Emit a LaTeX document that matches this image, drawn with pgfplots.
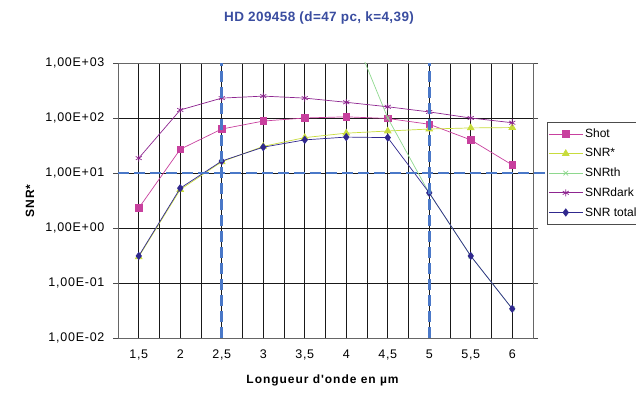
\documentclass[border=0pt]{standalone}
\usepackage{pgfplots}
\pgfplotsset{compat=1.18}
\usepackage{fontspec}
\setmainfont{Liberation Sans}
\newfontfamily\tickfont[LetterSpace=6]{Liberation Sans}
\newfontfamily\labfont[LetterSpace=8]{Liberation Sans}
\newfontfamily\titfont[LetterSpace=3]{Liberation Sans}
\definecolor{cshot}{HTML}{C8409E}
\definecolor{cstar}{HTML}{C8DC3C}
\definecolor{cth}{HTML}{8ED88E}
\definecolor{cdark}{HTML}{8E2590}
\definecolor{ctot}{HTML}{30288E}
\definecolor{cref}{HTML}{4A78C8}
\definecolor{ctitle}{HTML}{3A4DA0}
\begin{document}
\begin{tikzpicture}
\begin{axis}[
  at={(118pt,58pt)}, anchor=south west,
  scale only axis, width=415pt, height=275pt,
  ymode=log, xmin=1.25, xmax=6.25, ymin=0.01, ymax=1000,
  clip mode=individual,
  xtick={1.5,2,2.5,3,3.5,4,4.5,5,5.5,6},
  xticklabels={{1,5},2,{2,5},3,{3,5},4,{4,5},5,{5,5},6},
  minor xtick={1.25,1.75,2.25,2.75,3.25,3.75,4.25,4.75,5.25,5.75,6.25},
  ytick={0.01,0.1,1,10,100,1000},
  yticklabels={{1,00E-02},{1,00E-01},{1,00E+00},{1,00E+01},{1,00E+02},{1,00E+03}},
  yminorticks=false,
  /pgf/number format/assume math mode=true,
  xmajorgrids, xminorgrids, ymajorgrids,
  grid style={black!90, line width=0.6pt},
  minor grid style={black!90, line width=0.6pt},
  axis line style={black!60, line width=0.6pt},
  xtick style={draw=none}, minor tick length=0pt,
  ytick style={black!70}, major tick length=5pt,
  ytick align=outside,
  tick label style={font=\tickfont\fontsize{12.5}{14}\selectfont},
  yticklabel style={xshift=-5pt},
  xticklabel style={yshift=-8pt},
  every axis title shift=0pt,
  title={\textbf{HD 209458 (d=47 pc, k=4,39)}},
  title style={font=\titfont\fontsize{13.5}{15}\selectfont, text=ctitle, at={(axis description cs:0.485,1.164)}, anchor=center},
  xlabel={\textbf{Longueur d'onde en µm}},
  xlabel style={font=\labfont\fontsize{12}{14}\selectfont, at={(axis description cs:0.494,-0.153)}, anchor=center},
  ylabel={\textbf{SNR*}},
  ylabel style={font=\labfont\fontsize{12}{14}\selectfont, at={(axis description cs:-0.212,0.5)}, anchor=center},
  legend style={at={(rel axis cs:1.034,0.785)}, anchor=north west, draw=black!70, line width=0.6pt,
    font=\fontsize{12}{14}\selectfont, row sep=5.5pt, inner xsep=1pt, inner ysep=4.5pt},
  legend cell align=left,
  legend image code/.code={\draw[#1] (0pt,0pt) -- (34pt,0pt); \draw[#1, only marks] plot coordinates {(17pt,0pt)};},
]
\addplot[cshot, line width=0.7pt, mark=square*, mark size=3.3pt] coordinates {
(1.5,2.3) (2,27) (2.5,63) (3,88) (3.5,100) (4,105) (4.5,98) (5,77) (5.5,40) (6,14)};
\addlegendentry{Shot}
\addplot[cstar, line width=0.7pt, mark=triangle*, mark size=3.8pt] coordinates {
(1.5,0.3) (2,5.0) (2.5,16) (3,30.5) (3.5,44) (4,53) (4.5,58) (5,63) (5.5,66) (6,67)};
\addlegendentry{SNR*}
\addplot[cth, line width=0.7pt, mark=x, mark size=3.3pt] coordinates {
(1.5,1e8) (2,1e7) (2.5,1e6) (3,1e5) (3.5,3e4) (4,7000) (4.5,100) (5,4.3) (5.5,0.31) (6,0.034)};
\addlegendentry{SNRth}
\addplot[cdark, line width=0.7pt, mark=asterisk, mark size=3.5pt] coordinates {
(1.5,18.6) (2,140) (2.5,230) (3,250) (3.5,230) (4,193) (4.5,160) (5,129) (5.5,100) (6,82)};
\addlegendentry{SNRdark}
\addplot[ctot, line width=0.7pt, mark=diamond*, mark size=3.6pt] coordinates {
(1.5,0.31) (2,5.3) (2.5,16.5) (3,29.5) (3.5,40) (4,45) (4.5,44) (5,4.35) (5.5,0.31) (6,0.034)};
\addlegendentry{SNR total}
\addplot[cref, line width=2.8pt, dash pattern=on 11pt off 5pt, forget plot] coordinates {(2.5,0.01) (2.5,1000)};
\addplot[cref, line width=2.8pt, dash pattern=on 11pt off 5pt, forget plot] coordinates {(5,0.01) (5,1000)};
\addplot[cref, line width=2.8pt, dash pattern=on 11pt off 5pt, forget plot, clip=false] coordinates {(1.25,10) (6.4,10)};
\end{axis}
\pgfresetboundingbox
\useasboundingbox (0,0) rectangle (636pt,396pt);
\end{tikzpicture}
\end{document}
